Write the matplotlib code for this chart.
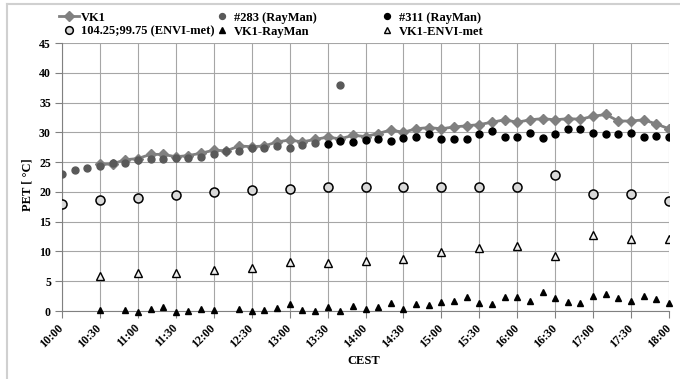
import numpy as np
import matplotlib
matplotlib.use("Agg")
import matplotlib.pyplot as plt
from matplotlib.lines import Line2D

plt.rcParams['font.family'] = ['Liberation Serif', 'DejaVu Serif']
plt.rcParams['font.weight'] = 'bold'

# ---- data (minutes after 10:00) ----
tick_labels = ["10:00", "10:30", "11:00", "11:30", "12:00", "12:30", "13:00", "13:30",
               "14:00", "14:30", "15:00", "15:30", "16:00", "16:30", "17:00", "17:30", "18:00"]
tick_minutes = [0, 30, 60, 90, 120, 150, 180, 210, 240, 270, 300, 330, 360, 390, 420, 450, 480]

vk1_t = list(range(30, 481, 10))
vk1 = [24.6, 24.7, 25.4, 25.6, 26.3, 26.3, 25.9, 26.1, 26.5, 27.0, 26.9, 27.7, 27.6, 27.7,
       28.4, 28.7, 28.4, 28.8, 29.2, 28.9, 29.5, 29.3, 29.8, 30.4, 30.0, 30.6, 30.8, 30.6,
       30.9, 31.1, 31.3, 31.7, 32.1, 31.7, 32.1, 32.3, 32.1, 32.3, 32.2, 32.7, 33.0, 31.9,
       31.9, 32.1, 31.4, 30.6]

r283_t = list(range(0, 221, 10))
r283 = [23.0, 23.6, 24.0, 24.4, 24.8, 24.9, 25.4, 25.6, 25.6, 25.7, 25.7, 25.9, 26.3, 26.8,
        26.9, 27.3, 27.4, 27.7, 27.3, 27.8, 28.2, np.nan, 38.0]

r311_t = list(range(210, 481, 10))
r311 = [28.1, 28.6, 28.4, 28.7, 28.8, 28.6, 29.1, 29.3, 29.8, 28.9, 28.9, 28.8, 29.8, 30.3,
        29.3, 29.2, 29.9, 29.1, 29.7, 30.5, 30.6, 29.9, 29.8, 29.7, 29.9, 29.2, 29.4, 29.2]

envi_t = list(range(0, 481, 30))
envi = [17.9, 18.6, 19.05, 19.55, 19.9, 20.3, 20.5, 20.8, 20.9, 20.9, 20.8, 20.8, 20.8,
        22.8, 19.7, 19.6, 18.5]

d_ray_t = list(range(30, 481, 10))
d_ray = [0.1, np.nan, 0.1, -0.1, 0.4, 0.7, -0.1, 0.0, 0.3, 0.2, np.nan, 0.3, 0.0, 0.1,
         0.45, 1.2, 0.2, 0.05, 0.6, -0.05, 0.9, 0.3, 0.7, 1.4, 0.4, 1.1, 1.0, 1.5, 1.7,
         2.3, 1.4, 1.1, 2.4, 2.3, 1.6, 3.2, 2.1, 1.45, 1.4, 2.6, 2.85, 2.1, 1.6, 2.6, 2.0, 1.3]

d_envi_t = list(range(30, 481, 30))
d_envi = [5.9, 6.3, 6.3, 6.9, 7.3, 8.3, 8.1, 8.4, 8.8, 9.9, 10.5, 10.9, 9.2, 12.8, 12.1, 12.1]

# ---- figure ----
W, H = 680, 379
fig = plt.figure(figsize=(W / 100, H / 100), dpi=100)
L, R, T, B = 62, 669, 43, 311
ax = fig.add_axes([L / W, 1 - B / H, (R - L) / W, (B - T) / H])

# chart-area border (top and left visible)
fig.add_artist(Line2D([7 / W, 1], [1 - 4 / H, 1 - 4 / H], transform=fig.transFigure,
                      color='#d0d0d0', lw=1.5))
fig.add_artist(Line2D([7 / W, 7 / W], [0, 1 - 4 / H], transform=fig.transFigure,
                      color='#d0d0d0', lw=1.5))

h_vk1, = ax.plot(vk1_t, vk1, color='#808080', lw=2.0, marker='D', ms=5.5,
                 mfc='#808080', mec='#808080', label='VK1', zorder=3)
h283, = ax.plot(r283_t, r283, ls='none', marker='o', ms=5, mfc='#595959', mec='#595959',
                label='#283 (RayMan)', zorder=4)
h311, = ax.plot(r311_t, r311, ls='none', marker='o', ms=5, mfc='black', mec='black',
                label='#311 (RayMan)', zorder=4)
henvi, = ax.plot(envi_t, envi, ls='none', marker='o', ms=6.5, mfc='#d9d9d9', mec='black',
                 mew=1.1, label='104.25;99.75 (ENVI-met)', zorder=4)
hdr, = ax.plot(d_ray_t, d_ray, ls='none', marker='^', ms=5, mfc='black', mec='black',
               label='VK1-RayMan', zorder=4, clip_on=False)
hde, = ax.plot(d_envi_t, d_envi, ls='none', marker='^', ms=5.8, mfc='#eeeeee', mec='black',
               mew=1.0, label='VK1-ENVI-met', zorder=4)

ax.set_xlim(0, 480)
ax.set_ylim(0, 45)
ax.set_yticks(np.arange(0, 46, 5))
ax.set_xticks(tick_minutes)
ax.set_xticklabels(tick_labels, rotation=45, ha='right', va='center',
                   rotation_mode='anchor', fontsize=8.5, fontweight='bold')
for lab in ax.get_yticklabels():
    lab.set_fontsize(8.5)
    lab.set_fontweight('bold')
ax.tick_params(axis='x', length=5, color='#808080', pad=6)
ax.tick_params(axis='y', length=5, color='#808080', pad=3)
ax.grid(True, color='#a6a6a6', lw=0.8)
ax.set_axisbelow(True)
for s in ['top', 'right']:
    ax.spines[s].set_visible(False)
for s in ['left', 'bottom']:
    ax.spines[s].set_color('#808080')
    ax.spines[s].set_linewidth(0.8)

ax.set_ylabel('PET [ °C]', fontsize=9, fontweight='bold')
ax.yaxis.set_label_coords(-0.047, 0.47)
ax.set_xlabel('CEST', fontsize=9, fontweight='bold')
ax.xaxis.set_label_coords(0.497, -0.165)

# legend: three columns
cols = [([h_vk1, henvi], 50), ([h283, hdr], 203), ([h311, hde], 368)]
for handles, x0 in cols:
    lg = fig.legend(handles=handles, loc='upper left', bbox_to_anchor=(x0 / W, 1 - 3 / H),
                    frameon=False, handlelength=1.6, handletextpad=0.2,
                    labelspacing=0.15, borderpad=0.2, numpoints=1, markerscale=0.85,
                    prop={'weight': 'bold', 'size': 9})

fig.savefig('out.png', dpi=100)
